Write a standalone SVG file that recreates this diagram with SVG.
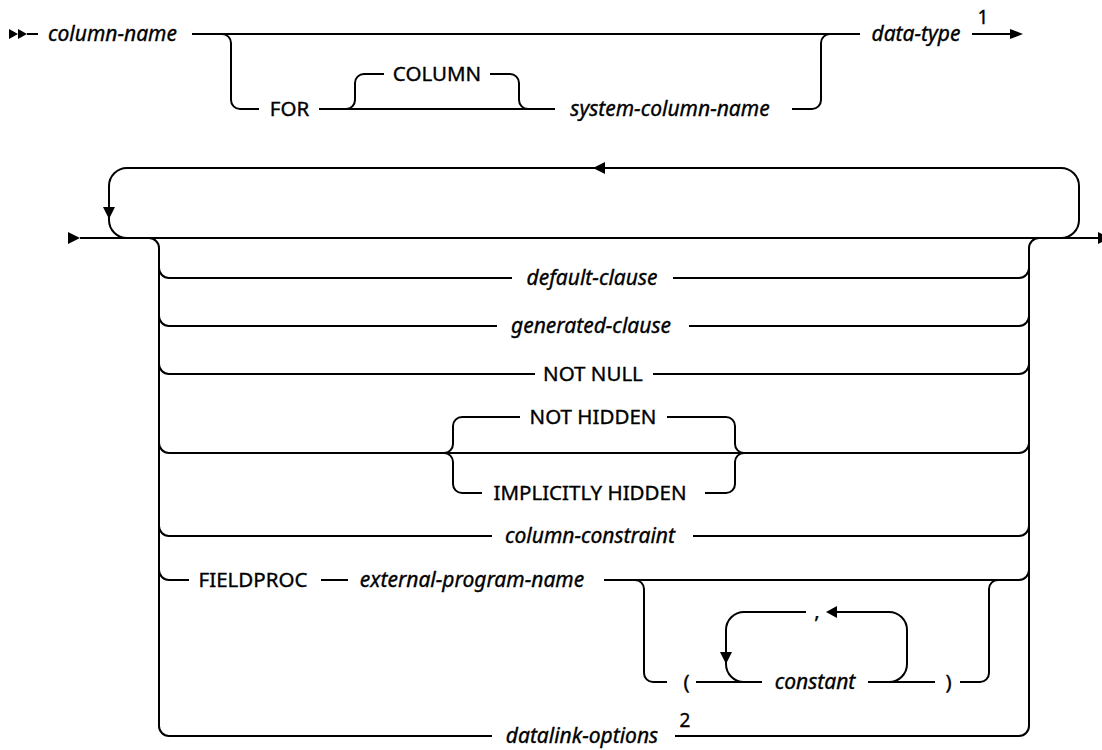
<svg xmlns="http://www.w3.org/2000/svg" width="1102" height="750" viewBox="0 0 1102 750">
<style>
  .ln { fill: none; stroke: #000; stroke-width: 2; }
  .ah { fill: #000; stroke: none; }
  text { font-family: "Noto Sans", "Liberation Sans", sans-serif; font-size: 20.5px; fill: #000; stroke: #000; stroke-width: 0.35; text-anchor: middle; }
  .var { font-style: italic; font-size: 21px; }
  .note { font-size: 19px; }
</style>
<rect width="1102" height="750" fill="#fff"/>
<g id="connectors">
  <!-- row 1 -->
  <polygon class="ah" points="9,29 18,34 9,39"/>
  <polygon class="ah" points="18,29 27,34 18,39"/>
  <path class="ln" d="M27 34 H38"/>
  <path class="ln" d="M192 34 H860"/>
  <path class="ln" d="M222 34 A9 9 0 0 1 231 43 V100 A9 9 0 0 0 240 109 H259"/>
  <path class="ln" d="M319 109 H555"/>
  <path class="ln" d="M346 109 A9 9 0 0 0 355 100 V83 A9 9 0 0 1 364 74 H384"/>
  <path class="ln" d="M490 74 H510 A9 9 0 0 1 519 83 V100 A9 9 0 0 0 528 109"/>
  <path class="ln" d="M792 109 H812 A9 9 0 0 0 821 100 V43 A9 9 0 0 1 830 34"/>
  <path class="ln" d="M972 34 H1012"/>
  <polygon class="ah" points="1010,29 1023,34 1010,39"/>
  <!-- row 2 main -->
  <polygon class="ah" points="68,232 80,238 68,244"/>
  <path class="ln" d="M80 238 H1102"/>
  <polygon class="ah" points="1098,232 1110,238 1098,244"/>
  <path class="ln" d="M1061 238 A18 18 0 0 0 1079 220 V186 A18 18 0 0 0 1061 168 H127 A18 18 0 0 0 109 186 V220 A18 18 0 0 0 127 238"/>
  <polygon class="ah" points="103,207 115,207 109,219"/>
  <polygon class="ah" points="605,162 605,174 593,168"/>
  <!-- choice verticals -->
  <path class="ln" d="M149 238 A10 10 0 0 1 159 248 V726 A10 10 0 0 0 169 736"/>
  <path class="ln" d="M1019 736 A10 10 0 0 0 1029 726 V248 A10 10 0 0 1 1039 238"/>
  <!-- default-clause -->
  <path class="ln" d="M159 268 A10 10 0 0 0 169 278 H512"/>
  <path class="ln" d="M673 278 H1019 A10 10 0 0 0 1029 268"/>
  <!-- generated-clause -->
  <path class="ln" d="M159 316 A10 10 0 0 0 169 326 H497"/>
  <path class="ln" d="M689 326 H1019 A10 10 0 0 0 1029 316"/>
  <!-- NOT NULL -->
  <path class="ln" d="M159 364 A10 10 0 0 0 169 374 H535"/>
  <path class="ln" d="M653 374 H1019 A10 10 0 0 0 1029 364"/>
  <!-- hidden -->
  <path class="ln" d="M159 443 A10 10 0 0 0 169 453 H1019 A10 10 0 0 0 1029 443"/>
  <path class="ln" d="M444 453 A9 9 0 0 0 453 444 V426 A9 9 0 0 1 462 417 H520"/>
  <path class="ln" d="M444 453 A9 9 0 0 1 453 462 V484 A9 9 0 0 0 462 493 H482"/>
  <path class="ln" d="M667 417 H726 A9 9 0 0 1 735 426 V444 A9 9 0 0 0 744 453"/>
  <path class="ln" d="M705 493 H726 A9 9 0 0 0 735 484 V462 A9 9 0 0 1 744 453"/>
  <!-- column-constraint -->
  <path class="ln" d="M159 526 A10 10 0 0 0 169 536 H492"/>
  <path class="ln" d="M693 536 H1019 A10 10 0 0 0 1029 526"/>
  <!-- FIELDPROC -->
  <path class="ln" d="M159 570 A10 10 0 0 0 169 580 H189"/>
  <path class="ln" d="M321 580 H348"/>
  <path class="ln" d="M604 580 H1019 A10 10 0 0 0 1029 570"/>
  <path class="ln" d="M635 580 A9 9 0 0 1 644 589 V673 A9 9 0 0 0 653 682 H667"/>
  <path class="ln" d="M696 682 H762"/>
  <path class="ln" d="M868 682 H935"/>
  <path class="ln" d="M960 682 H980 A9 9 0 0 0 989 673 V589 A9 9 0 0 1 998 580"/>
  <path class="ln" d="M889 682 A18 18 0 0 0 907 664 V630 A18 18 0 0 0 889 612 H836"/>
  <path class="ln" d="M806 612 H744 A18 18 0 0 0 726 630 V664 A18 18 0 0 0 744 682"/>
  <polygon class="ah" points="837,606 837,618 826,612"/>
  <polygon class="ah" points="720,652 732,652 726,664"/>
  <!-- datalink -->
  <path class="ln" d="M492 736 H169"/>
  <path class="ln" d="M675 736 H1019"/>
</g>
<g id="n-column-name"><text class="var" x="112.5" y="41">column-name</text></g>
<g id="n-for"><text x="289.5" y="116">FOR</text></g>
<g id="n-column"><text x="437" y="81">COLUMN</text></g>
<g id="n-system-column-name"><text class="var" x="670" y="116">system-column-name</text></g>
<g id="n-data-type"><text class="var" x="916" y="41">data-type</text><text class="note" x="983" y="24">1</text></g>
<g id="n-default-clause"><text class="var" x="592" y="285">default-clause</text></g>
<g id="n-generated-clause"><text class="var" x="591" y="333">generated-clause</text></g>
<g id="n-not-null"><text x="593" y="381">NOT NULL</text></g>
<g id="n-not-hidden"><text x="593" y="424">NOT HIDDEN</text></g>
<g id="n-implicitly-hidden"><text x="590" y="500">IMPLICITLY HIDDEN</text></g>
<g id="n-column-constraint"><text class="var" x="590" y="543">column-constraint</text></g>
<g id="n-fieldproc"><text x="253" y="587">FIELDPROC</text></g>
<g id="n-external-program-name"><text class="var" x="472" y="587">external-program-name</text></g>
<g id="n-lparen"><text x="686.5" y="689">(</text></g>
<g id="n-comma"><text x="817" y="618">,</text></g>
<g id="n-constant"><text class="var" x="815" y="689">constant</text></g>
<g id="n-rparen"><text x="948.5" y="689">)</text></g>
<g id="n-datalink-options"><text class="var" x="582" y="743">datalink-options</text><text class="note" x="685" y="727">2</text></g>
</svg>
